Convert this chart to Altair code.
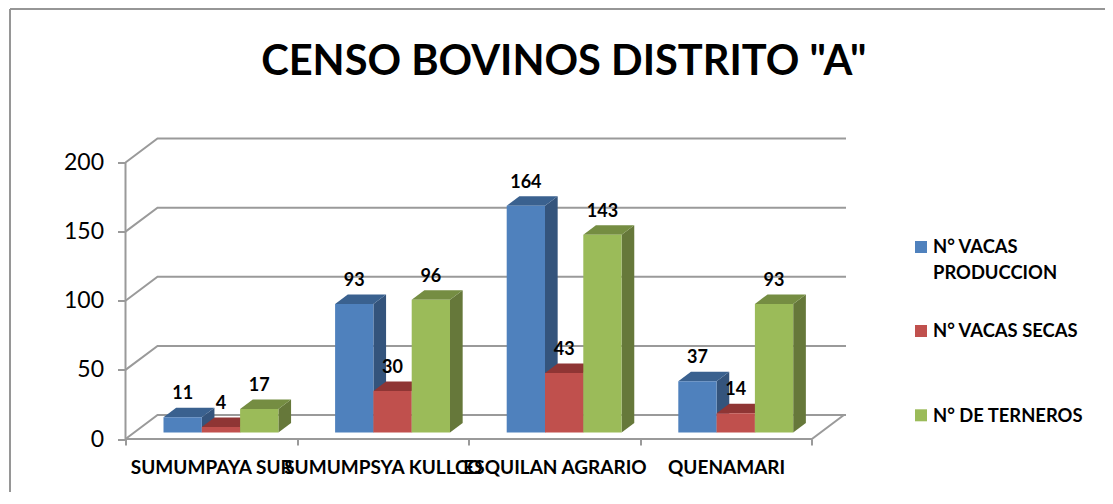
import altair as alt
import pandas as pd

categories = ["SUMUMPAYA SUR", "SUMUMPSYA KULLCO", "ESQUILAN AGRARIO", "QUENAMARI"]
series_names = ["N° VACAS PRODUCCION", "N° VACAS SECAS", "N° DE TERNEROS"]
produccion = [11, 93, 164, 37]
secas = [4, 30, 43, 14]
terneros = [17, 96, 143, 93]
y_ticks = [0, 50, 100, 150, 200]
front_colors = ["#4F81BD", "#C0504D", "#9BBB59"]
side_colors = ["#34547C", "#7D3230", "#66783A"]
top_colors = ["#3A618F", "#8F3534", "#758D42"]
FONT = "Lato"
LINE = "#9A9A9A"

# scale geometry
PX_PER_CAT = 171.6
PX_PER_VAL = 1.3825
W, H = 720.5, 301.5
X_MAX, Y_MAX = W / PX_PER_CAT, H / PX_PER_VAL
FLOOR_DX, FLOOR_DY = 32 / PX_PER_CAT, 24 / PX_PER_VAL
BAR_D0, BAR_DEPTH = 6.5 / 24, 9.5 / 24
BAR_W = 38.3 / PX_PER_CAT
BAR_GAP = (38.0 - BAR_D0 * 32) / PX_PER_CAT

front, side, top, labels = [], [], [], []
for s, values in enumerate([produccion, secas, terneros]):
    for c, v in enumerate(values):
        x0 = c + BAR_GAP + s * BAR_W + BAR_D0 * FLOOR_DX
        x1 = x0 + BAR_W
        base = BAR_D0 * FLOOR_DY
        vtop = base + v
        dx, dy = BAR_DEPTH * FLOOR_DX, BAR_DEPTH * FLOOR_DY
        g = f"{s}-{c}"
        front.append(dict(series=series_names[s], x=x0, x2=x1, y=base, y2=vtop))
        side += [dict(g=g, s=s, x=x1, y=base, y2=vtop),
                 dict(g=g, s=s, x=x1 + dx, y=base + dy, y2=vtop + dy)]
        top += [dict(g=g, s=s, y=vtop, x=x0, x2=x1),
                dict(g=g, s=s, y=vtop + dy, x=x0 + dx, x2=x1 + dx)]
        labels.append(dict(x=(x0 + x1) / 2, y=vtop, t=str(v)))

grid = []
for v in y_ticks:
    pts = [(0, v), (FLOOR_DX, v + FLOOR_DY), (X_MAX, v + FLOOR_DY)]
    for i, (px, py) in enumerate(pts):
        grid.append(dict(g=f"g{v}", o=i, x=px, y=py))
for i, (px, py) in enumerate([(0, 0), (0, 200)]):
    grid.append(dict(g="yaxis", o=i, x=px, y=py))
for i, (px, py) in enumerate([(0, 0), (4, 0), (4 + FLOOR_DX, FLOOR_DY)]):
    grid.append(dict(g="xaxis", o=i, x=px, y=py))

# legend rows, placed through the same scales as the plot
legend_rows = []
for name, sq_y, txt_y in zip(series_names, [247, 331, 415.3], [253.3, 337.3, 422]):
    text = name.replace("VACAS PRODUCCION", "VACAS\nPRODUCCION")
    legend_rows.append(dict(series=name, t=text,
                            sx=(921 - 125.5) / PX_PER_CAT, sy=(439 - sq_y) / PX_PER_VAL,
                            tx=(933 - 125.5) / PX_PER_CAT, ty=(439 - txt_y) / PX_PER_VAL))

xs = alt.Scale(domain=[0, X_MAX], nice=False, zero=False)
ys = alt.Scale(domain=[0, Y_MAX], nice=False, zero=False)
sc_side = alt.Scale(domain=[0, 1, 2], range=side_colors)
sc_top = alt.Scale(domain=[0, 1, 2], range=top_colors)
sc_front = alt.Scale(domain=series_names, range=front_colors)

label_expr = "[" + ",".join(f"'{c}'" for c in categories) + ",''][datum.value]"
x_enc = alt.X("x:Q", scale=xs, title=None, axis=alt.Axis(
    values=[0, 1, 2, 3, 4], domain=False, grid=False, tickColor=LINE, tickWidth=2, tickSize=6,
    labelExpr=label_expr, labelOffset=85.8, labelOverlap=False, labelBound=False, labelFlush=False, labelLimit=400,
    labelFont=FONT, labelFontWeight="bold", labelFontSize=19, labelColor="#000000", labelPadding=13))
y_enc = alt.Y("y:Q", scale=ys, title=None, axis=alt.Axis(
    values=y_ticks, domain=False, grid=False, tickColor=LINE, tickWidth=2, tickSize=8,
    labelFont=FONT, labelFontSize=23, labelColor="#000000", labelPadding=14, labelOverlap=False, labelBound=False))

grid_layer = alt.Chart(pd.DataFrame(grid)).mark_line(color=LINE, strokeWidth=2, clip=False).encode(
    x=x_enc, y=y_enc, detail="g:N", order="o:Q")
side_layer = alt.Chart(pd.DataFrame(side)).mark_area(orient="vertical", interpolate="linear").encode(
    x=alt.X("x:Q", scale=xs), y=alt.Y("y:Q", scale=ys), y2="y2:Q", detail="g:N",
    color=alt.Color("s:O", scale=sc_side, legend=None))
top_layer = alt.Chart(pd.DataFrame(top)).mark_area(orient="horizontal", interpolate="linear").encode(
    y=alt.Y("y:Q", scale=ys), x=alt.X("x:Q", scale=xs), x2="x2:Q", detail="g:N",
    color=alt.Color("s:O", scale=sc_top, legend=None))
front_layer = alt.Chart(pd.DataFrame(front)).mark_rect().encode(
    x=alt.X("x:Q", scale=xs), x2="x2:Q", y=alt.Y("y:Q", scale=ys), y2="y2:Q",
    fill=alt.Fill("series:N", scale=sc_front, legend=None))
text_layer = alt.Chart(pd.DataFrame(labels)).mark_text(
    font=FONT, fontWeight="bold", fontSize=18, color="#000000", dy=-18, baseline="alphabetic", align="center"
).encode(x=alt.X("x:Q", scale=xs), y=alt.Y("y:Q", scale=ys), text="t:N")

legend_df = pd.DataFrame(legend_rows)
legend_sq = alt.Chart(legend_df).mark_square(size=144, opacity=1, strokeWidth=0).encode(
    x=alt.X("sx:Q", scale=xs), y=alt.Y("sy:Q", scale=ys),
    fill=alt.Fill("series:N", scale=sc_front, legend=None))
legend_txt = alt.Chart(legend_df).mark_text(
    font=FONT, fontWeight="bold", fontSize=18.4, color="#000000", align="left", baseline="alphabetic",
    lineBreak="\n", lineHeight=26
).encode(x=alt.X("tx:Q", scale=xs), y=alt.Y("ty:Q", scale=ys), text="t:N")

# outer chart frame: anchored just outside the plot area
border = alt.Chart(pd.DataFrame({"a": [0]})).mark_rule(color="#969696", strokeWidth=2, clip=False)
frame_left = border.encode(x=alt.value(10 - 125.5), y=alt.value(9 - 137.5), y2=alt.value(504 - 137.5))
frame_top = border.encode(x=alt.value(10 - 125.5), x2=alt.value(1113 - 125.5), y=alt.value(9 - 137.5))

chart = alt.layer(frame_left, frame_top, grid_layer, side_layer, top_layer, front_layer, text_layer,
                  legend_sq, legend_txt).resolve_scale(
    color="independent"
).properties(
    width=W, height=H,
    padding={"left": 117.5, "top": 129.5, "right": 259, "bottom": 53},
    autosize=alt.AutoSizeParams(type="none"),
    title=alt.TitleParams('CENSO BOVINOS DISTRITO "A"', font=FONT, fontWeight="bold", fontSize=41.6,
                          color="#000000", anchor="middle", dx=78, dy=109, offset=0, baseline="alphabetic"),
).configure_view(stroke=None)

chart.save("out.html", embed_options={"renderer": "svg", "actions": False})
